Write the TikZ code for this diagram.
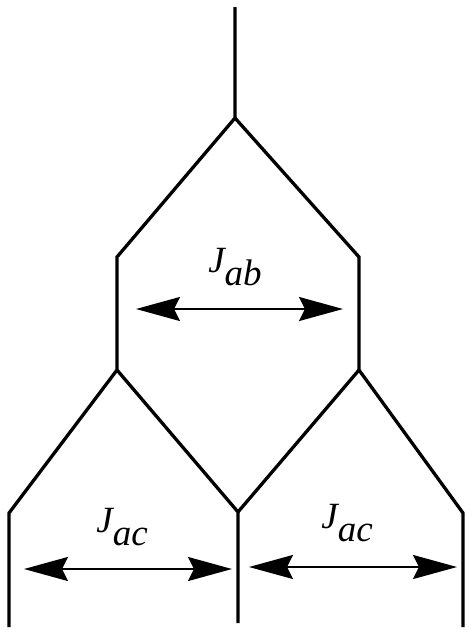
\documentclass[tikz,border=0pt]{standalone}
\usepackage{fontspec}
\setmainfont{Liberation Serif}
\usetikzlibrary{arrows.meta}

\newcommand\coupl[1]{\textit{J\raisebox{-0.33em}{#1}}}

\begin{document}
\begin{tikzpicture}[x=1pt,y=-1pt]
    % Define line widths and label font
    \def\lw{3.3pt}  % width of the branches
    \def\aw{2.3pt}  % width of the arrows
    \tikzset{branch/.style={line width=\lw},
             coupling/.style={line width=\aw,{Stealth[length=44pt,width=24pt,inset=6pt]}-{Stealth[length=44pt,width=24pt,inset=6pt]}},
             lab/.style={inner sep=0pt,font=\fontsize{37}{37}\selectfont}}

    \useasboundingbox (0,0) rectangle (474,635);

    % Coordinates of the tree
    \coordinate (T0) at (235,7);
    \coordinate (T1) at (235,118);
    \coordinate (L1) at (117,257);
    \coordinate (R1) at (359,257);
    \coordinate (L2) at (117,370);
    \coordinate (R2) at (359,370);
    \coordinate (A3) at (9,513);
    \coordinate (B3) at (238,512);
    \coordinate (C3) at (463,513);
    \coordinate (A4) at (9,627);
    \coordinate (B4) at (238,623);
    \coordinate (C4) at (463,627);

    % Draw the branches
    \draw[branch] (T0) -- (T1) -- (L1) -- (L2) -- (A3) -- (A4);
    \draw[branch] (T1) -- (R1) -- (R2) -- (C3) -- (C4);
    \draw[branch] (L2) -- (B3) -- (B4);
    \draw[branch] (R2) -- (B3);

    % End points of the coupling arrows
    \coordinate (ab1) at (136,309);
    \coordinate (ab2) at (343,309);
    \coordinate (acL1) at (24,569);
    \coordinate (acL2) at (232,569);
    \coordinate (acR1) at (249,567);
    \coordinate (acR2) at (457,567);

    % Draw couplings
    \draw[coupling] (ab1) -- (ab2);
    \draw[coupling] (acL1) -- (acL2);
    \draw[coupling] (acR1) -- (acR2);

    \node[lab] (Jab) at (235,267) {\coupl{ab}};
    \node[lab] (JacL) at (122,527) {\coupl{ac}};
    \node[lab] (JacR) at (347,523) {\coupl{ac}};
\end{tikzpicture}
\end{document}
